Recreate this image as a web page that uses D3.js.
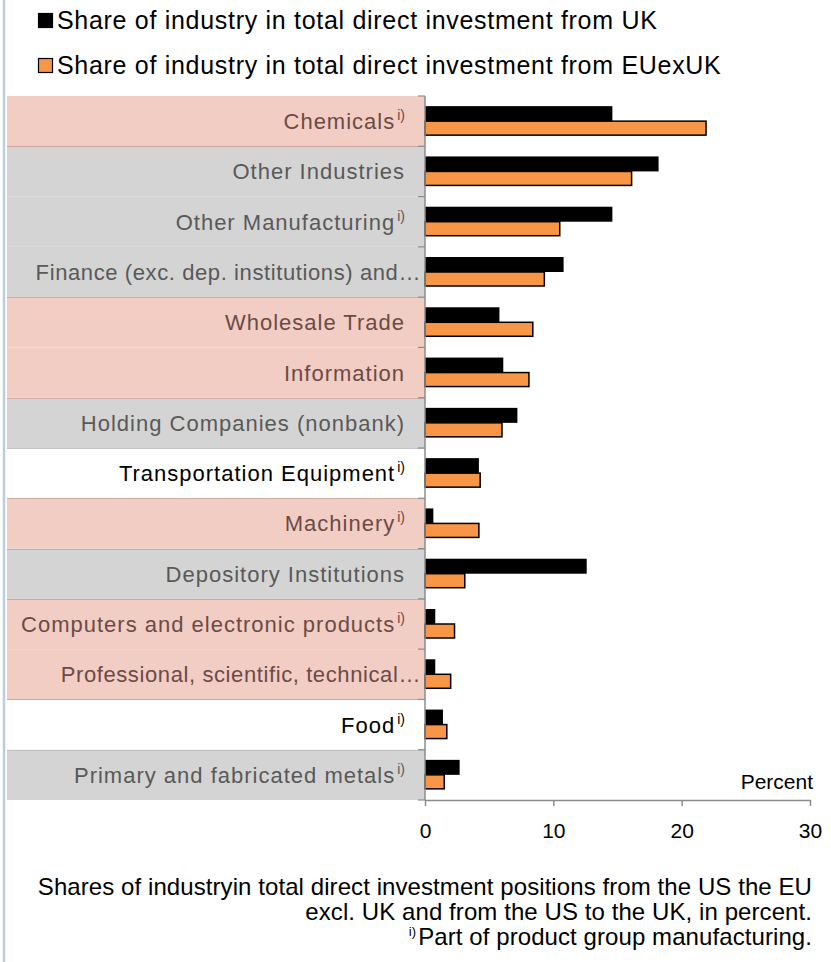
<!DOCTYPE html>
<html>
<head>
<meta charset="utf-8">
<script src="https://cdn.jsdelivr.net/npm/d3@7"></script>
<style>
  body { margin: 0; background: #fff; }
  svg { display: block; font-family: "Liberation Sans", Arial, sans-serif; }
</style>
</head>
<body>
<svg id="chart" width="831" height="962"></svg>
<script>
// ---------- data ----------
const categories = [
  "Chemicals", "Other Industries", "Other Manufacturing",
  "Finance (exc. dep. institutions) and\u2026", "Wholesale Trade", "Information",
  "Holding Companies (nonbank)", "Transportation Equipment", "Machinery",
  "Depository Institutions", "Computers and electronic products",
  "Professional, scientific, technical\u2026", "Food", "Primary and fabricated metals"
];
const manufacturingFlag = [true, false, true, false, false, false, false, true, true, false, true, false, true, true];
const highlightGroup = ["A", "B", "B", "B", "A", "A", "B", "", "A", "B", "A", "A", "", "B"];
const shareUK     = [14.6, 18.2, 14.6, 10.8, 5.8, 6.1, 7.2, 4.2, 0.65, 12.6, 0.8, 0.8, 1.4, 2.7];
const shareEUexUK = [21.9, 16.1, 10.5, 9.3, 8.4, 8.1, 6.0, 4.3, 4.2, 3.1, 2.3, 2.0, 1.7, 1.5];
const seriesNames = [
  "Share of industry in total direct investment from UK",
  "Share of industry in total direct investment from EUexUK"
];
const xTicks = [0, 10, 20, 30];
const axisUnit = "Percent";
const footnoteLines = [
  "Shares of industryin total direct investment positions from the US the EU",
  "excl. UK and from the US to the UK, in percent."
];
const footnoteMark = "i)";
const footnoteText = "Part of product group manufacturing.";

// ---------- setup ----------
const svg = d3.select("#chart");
const font = "'Liberation Sans', Arial, sans-serif";

const x = d3.scaleLinear().domain([0, 30]).range([425, 810]);
const y = d3.scaleBand().domain(categories).range([96, 800]);
const bw = y.bandwidth();
const barH = 15;

const bandFill = d3.scaleOrdinal().domain(["A", "B", ""]).range(["#f2cdc4", "#d4d4d4", "none"]);
const labelColor = d3.scaleOrdinal().domain(["A", "B", ""]).range(["#6b4b46", "#595959", "#000"]);
const seriesColor = ["#000000", "#f79646"];

// frame left border
svg.append("line").attr("x1", 4).attr("x2", 4).attr("y1", 0).attr("y2", 962)
  .attr("stroke", "#b9cde5").attr("stroke-width", 2.5);

// background bands
const rows = categories.map((c, i) => ({ c, i, g: highlightGroup[i], uk: shareUK[i], eu: shareEUexUK[i], m: manufacturingFlag[i] }));
svg.append("g").selectAll("rect").data(rows.filter(d => d.g !== "")).join("rect")
  .attr("x", 7).attr("width", x(0) - 7)
  .attr("y", d => y(d.c)).attr("height", bw)
  .attr("fill", d => bandFill(d.g));
// group boundary lines
svg.append("g").selectAll("line").data(rows.filter((d, i) => i > 0 && d.g !== rows[i - 1].g && (d.g !== "" || rows[i - 1].g !== ""))).join("line")
  .attr("x1", 7).attr("x2", x(0))
  .attr("y1", d => Math.round(y(d.c)) + 0.5).attr("y2", d => Math.round(y(d.c)) + 0.5)
  .attr("stroke", d => d.g === "A" || (d.i > 0 && rows[d.i - 1].g === "A") ? "#d0aaa2" : "#c4c4c4")
  .attr("stroke-width", 1);

// category labels
const truncated = c => c.endsWith("\u2026");
const lab = svg.append("g").selectAll("text").data(rows).join("text")
  .attr("x", d => truncated(d.c) ? 421 : 405)
  .attr("y", d => y(d.c) + bw / 2 + 8)
  .attr("text-anchor", "end")
  .attr("font-size", 22)
  .attr("letter-spacing", d => truncated(d.c) ? 0.6 : 1.0)
  .attr("fill", d => labelColor(d.g));
lab.append("tspan").text(d => d.c);
lab.filter(d => d.m).append("tspan")
  .attr("font-size", 14).attr("letter-spacing", 0).attr("dx", 2).attr("dy", -9).text(footnoteMark);

// bars
const bars = svg.append("g");
bars.selectAll("rect.uk").data(rows).join("rect").attr("class", "uk")
  .attr("x", x(0)).attr("y", d => y(d.c) + bw / 2 - barH)
  .attr("width", d => x(d.uk) - x(0)).attr("height", barH)
  .attr("fill", seriesColor[0]);
bars.selectAll("rect.eu").data(rows).join("rect").attr("class", "eu")
  .attr("x", x(0)).attr("y", d => y(d.c) + bw / 2)
  .attr("width", d => x(d.eu) - x(0)).attr("height", barH - 1)
  .attr("fill", seriesColor[1]).attr("stroke", "#000").attr("stroke-width", 1.5);

// y axis (line with ticks at band boundaries)
const yAxisG = svg.append("g");
yAxisG.append("line").attr("x1", x(0)).attr("x2", x(0)).attr("y1", y.range()[0]).attr("y2", y.range()[1])
  .attr("stroke", "#8c8c8c").attr("stroke-width", 1.5);
yAxisG.selectAll("line.t").data(categories.concat([null])).join("line").attr("class", "t")
  .attr("x1", x(0) - 7).attr("x2", x(0))
  .attr("y1", (d, i) => y.range()[0] + i * bw).attr("y2", (d, i) => y.range()[0] + i * bw)
  .attr("stroke", "#8c8c8c").attr("stroke-width", 1.2);

// x axis
const xAxis = d3.axisBottom(x).tickValues(xTicks).tickSize(6).tickPadding(17).tickSizeOuter(0);
const xg = svg.append("g").attr("transform", `translate(0,800)`).call(xAxis);
xg.select(".domain").attr("stroke", "#8c8c8c").attr("stroke-width", 1.5);
xg.selectAll(".tick line").attr("stroke", "#8c8c8c").attr("stroke-width", 1.5);
xg.selectAll(".tick text").attr("font-size", 21).attr("font-family", font).attr("fill", "#000");

svg.append("text").attr("x", 813).attr("y", 789).attr("text-anchor", "end")
  .attr("font-size", 21).attr("fill", "#000").text(axisUnit);

// legend
const leg = svg.append("g");
seriesNames.forEach((name, i) => {
  const base = 29 + i * 45;
  leg.append("rect").attr("x", 38.5).attr("y", base - 15.5).attr("width", 14).attr("height", 14)
    .attr("fill", seriesColor[i]).attr("stroke", "#000").attr("stroke-width", 1.2);
  leg.append("text").attr("x", 57).attr("y", base).attr("font-size", 25)
    .attr("letter-spacing", 0.7).attr("fill", "#000").text(name);
});

// footnote
const fn = svg.append("g").attr("font-size", 24).attr("fill", "#000").attr("text-anchor", "end")
  .attr("letter-spacing", 0.08);
footnoteLines.forEach((t, i) => {
  fn.append("text").attr("x", 812).attr("y", 895 + i * 25).text(t);
});
const last = fn.append("text").attr("x", 812).attr("y", 945);
last.append("tspan").attr("font-size", 13).attr("dy", -9).text(footnoteMark);
last.append("tspan").attr("dy", 9).attr("dx", 2).text(footnoteText);
</script>
</body>
</html>
